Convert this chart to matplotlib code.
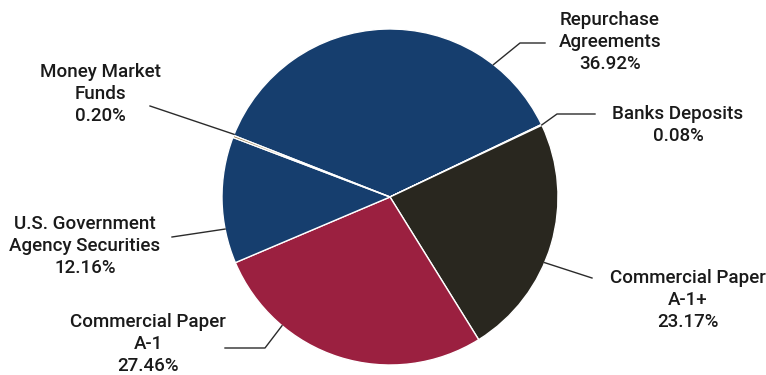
import numpy as np
import matplotlib

matplotlib.use("Agg")

import matplotlib.pyplot as plt

LABELS = [
    "Repurchase\nAgreements",
    "Banks Deposits",
    "Commercial Paper\nA-1+",
    "Commercial Paper\nA-1",
    "U.S. Government\nAgency Securities",
    "Money Market\nFunds",
]
SHARES = [36.92, 0.08, 23.17, 27.46, 12.16, 0.20]
COLORS = ["#163e6e", "#b9b9b9", "#29271f", "#9b2040", "#163e6e", "#86672f"]

# label layout in pixel coords (y down): text center, anchor angle on the pie, leader path
LABEL_XY = [(610, 42), (678, 125), (688, 300), (148, 344), (85, 246), (100, 94)]
ANCHOR_DEG = [52, 25.4, -23, 230, 191, 158.1]
LEADER_PTS = [
    [(520, 43), (545, 43)],
    [(557, 114), (595, 114)],
    [(592, 278)],
    [(265, 348), (225, 348)],
    [(172, 237)],
    [(150, 106)],
]

W, H = 766, 375
CX, CY, R = 390, 197, 168

fig = plt.figure(figsize=(W / 100, H / 100), dpi=100)
ax = fig.add_axes([0, 0, 1, 1])
ax.set_xlim(0, W)
ax.set_ylim(0, H)
ax.set_aspect("equal")
ax.axis("off")

ax.pie(
    SHARES,
    colors=COLORS,
    startangle=158.5,
    counterclock=False,
    center=(CX, H - CY),
    radius=R,
    wedgeprops=dict(edgecolor="white", linewidth=1.0),
)
ax.set_xlim(0, W)
ax.set_ylim(0, H)

for label, share, (tx, ty), ang, pts in zip(LABELS, SHARES, LABEL_XY, ANCHOR_DEG, LEADER_PTS):
    a = np.deg2rad(ang)
    xs = [CX + R * np.cos(a)] + [p[0] for p in pts]
    ys = [H - CY + R * np.sin(a)] + [H - p[1] for p in pts]
    ax.plot(xs, ys, color="#2b2b2b", linewidth=1.0)
    ax.text(
        tx, H - ty, f"{label}\n{share:.2f}%",
        ha="center", va="center", fontsize=13.5, family="Roboto",
        fontweight="medium", color="#1a1a1a", linespacing=1.32,
    )

fig.savefig("out.png", dpi=100)
